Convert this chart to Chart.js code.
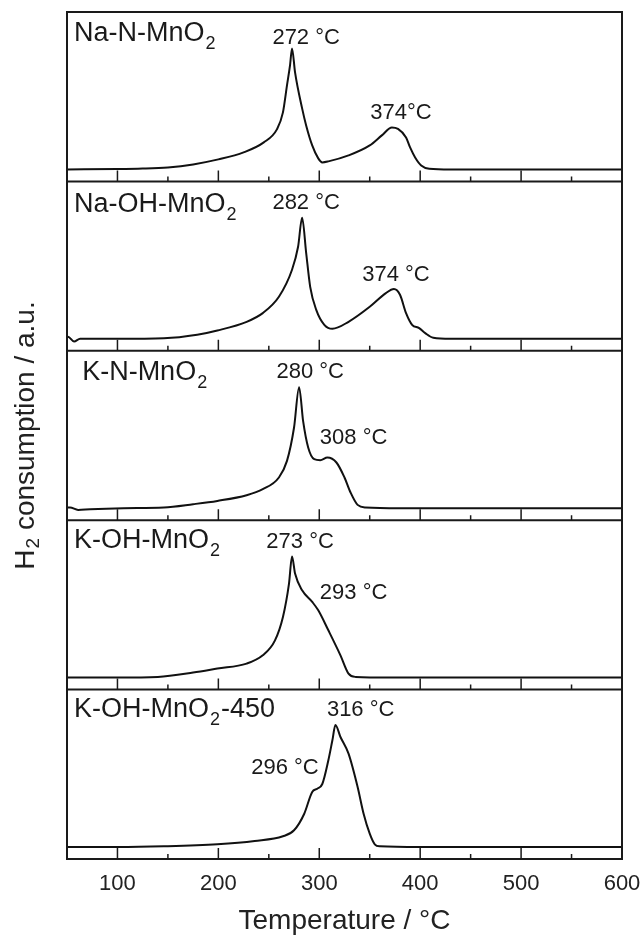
<!DOCTYPE html>
<html>
<head>
<meta charset="utf-8">
<script src="https://cdn.jsdelivr.net/npm/chart.js@4/dist/chart.umd.min.js"></script>
<style>
  html, body { margin: 0; padding: 0; background: #fff; }
  #wrap { position: relative; width: 644px; height: 935px; }
</style>
</head>
<body>
<div id="wrap"><canvas id="tpr" width="644" height="935"></canvas></div>
<script>
// H2-TPR traces (signal in a.u., 0 = baseline of each trace)
var tNaN = [50, 100, 125, 150, 175, 200, 225, 245, 258, 264, 268, 271, 273, 276, 283, 287, 293, 299, 303, 309, 329, 350, 362, 372, 378, 386, 390, 395, 401, 409, 430, 500, 600];
var hNaN = [0, 0.3, 0.8, 2, 5, 10, 17, 27, 40, 57, 84, 104, 121, 97, 61, 44, 24, 11, 7, 8, 14, 24, 34, 42, 40.5, 32, 22, 12, 4, 0.7, 0, 0, 0];

var tNaOH = [50, 51, 57, 63, 100, 146, 179, 199, 228, 244, 260, 273, 279, 283, 287, 291, 297, 305, 313, 329, 350, 366, 374, 380, 386, 392, 399, 405, 413, 430, 500, 600];
var hNaOH = [1.5, 2, -2.7, 0, 0, 0.5, 4, 8.3, 17, 25.7, 42, 69, 92, 121, 86, 52, 29, 14, 10, 17, 32, 45.7, 49.7, 44, 25.7, 14, 10.7, 5.7, 1, 0, 0, 0];

var tKN = [50, 53, 61, 73, 106, 146, 175, 199, 228, 244, 260, 268, 275, 280, 284, 289, 295, 301, 308, 317, 325, 331, 338, 346, 380, 500, 600];
var hKN = [0.5, 0.7, -1.7, -1, 0, 0.7, 4, 7.3, 13, 19, 30.7, 47.3, 80.7, 121, 87, 60.7, 49, 48, 50.7, 45.7, 30.7, 15.7, 3.3, 0.7, 0, 0, 0];

var tKOH = [50, 100, 140, 175, 199, 228, 244, 256, 264, 270, 273, 276, 283, 293, 299, 309, 321, 329, 336, 370, 500, 600];
var hKOH = [0, 0, 0.7, 5, 9, 14, 22.3, 37, 60.7, 94, 121, 104, 87.3, 75.7, 67.3, 47.3, 22.3, 4, 0.7, 0, 0, 0];

var tKOH450 = [50, 100, 146, 199, 236, 264, 275, 285, 293, 298, 303, 309, 313, 316, 321, 329, 338, 344, 350, 355, 360, 400, 500, 600];
var hKOH450 = [0, 0, 0.7, 2.7, 6, 10.7, 16.7, 33, 55, 58.3, 63, 86.7, 106.7, 122, 110, 93.3, 60, 33, 13.3, 2.7, 0.7, 0, 0, 0];

var temps = [tNaN, tNaOH, tKN, tKOH, tKOH450];
var signals = [hNaN, hNaOH, hKN, hKOH, hKOH450];

// sample names: [text, subscript, suffix]
var sampleNames = [
  ['Na-N-MnO', '2', ''],
  ['Na-OH-MnO', '2', ''],
  ['K-N-MnO', '2', ''],
  ['K-OH-MnO', '2', ''],
  ['K-OH-MnO', '2', '-450']
];
var peakTexts = [
  ['272 °C', '374°C'],
  ['282 °C', '374 °C'],
  ['280 °C', '308 °C'],
  ['273 °C', '293 °C'],
  ['316 °C', '296 °C']
];
var xTickValues = [100, 200, 300, 400, 500, 600];
var xMinorValues = [150, 250, 350, 450, 550];

// where the texts sit, in each panel's data coordinates [T, signal]
var nameAnchors = [[57, 128], [57, 127], [65, 128], [57, 130], [57, 130]];
var peakAnchors = [
  [[287, 131], [381, 56]],
  [[287, 136], [376, 64]],
  [[291, 136], [334, 70]],
  [[281, 136], [334, 85]],
  [[341, 137], [266, 79]]
];

var FONT = "'Liberation Sans', Arial, Helvetica, sans-serif";
var INK = '#1a1a1a';

var datasets = [];
var scales = {
  x: {
    type: 'linear',
    min: 50,
    max: 600,
    position: 'bottom',
    afterBuildTicks: function (s) {
      s.ticks = xTickValues.map(function (v) { return { value: v }; });
    },
    ticks: { color: '#222', padding: 12, font: { family: FONT, size: 22 } },
    grid: { display: false, drawTicks: false },
    border: { display: false },
    title: {
      display: true,
      text: 'Temperature / °C',
      color: '#222',
      padding: 0,
      font: { family: FONT, size: 28, lineHeight: 1 }
    },
    afterFit: function (s) {
      s.height = 76;
      s.paddingLeft = 0;
      s.paddingRight = 0;
    }
  }
};

for (var i = 0; i < 5; i++) {
  var pts = temps[i].map(function (t, k) { return { x: t, y: signals[i][k] }; });
  datasets.push({
    data: pts,
    yAxisID: 'y' + i,
    borderColor: '#111',
    borderWidth: 2,
    pointRadius: 0,
    fill: false,
    cubicInterpolationMode: 'monotone'
  });
}
// stacked panels: the last one defined ends up on top
for (var j = 4; j >= 0; j--) {
  scales['y' + j] = {
    type: 'linear',
    position: 'left',
    stack: 'panels',
    stackWeight: 1,
    min: -12,
    max: 157.4,
    ticks: { display: false },
    grid: { display: false, drawTicks: false },
    border: { display: false },
    afterFit: function (s) { s.width = 0; }
  };
}

function drawName(ctx, parts, x, y) {
  ctx.font = '27px ' + FONT;
  ctx.textAlign = 'left';
  ctx.textBaseline = 'alphabetic';
  ctx.fillText(parts[0], x, y);
  var w = ctx.measureText(parts[0]).width;
  ctx.font = '18px ' + FONT;
  ctx.fillText(parts[1], x + w + 1, y + 8);
  var w2 = ctx.measureText(parts[1]).width;
  if (parts[2]) {
    ctx.font = '27px ' + FONT;
    ctx.fillText(parts[2], x + w + w2 + 2, y);
  }
}

var panelPlugin = {
  id: 'panels',
  afterDraw: function (chart) {
    var ctx = chart.ctx;
    var area = chart.chartArea;
    var xs = chart.scales.x;
    ctx.save();
    ctx.strokeStyle = INK;
    ctx.fillStyle = INK;

    for (var i = 0; i < 5; i++) {
      var ys = chart.scales['y' + i];
      var bottom = ys.bottom;
      // inward ticks along the bottom of each panel
      ctx.lineWidth = 1.5;
      ctx.beginPath();
      xTickValues.forEach(function (v) {
        var px = xs.getPixelForValue(v);
        ctx.moveTo(px, bottom);
        ctx.lineTo(px, bottom - 11);
      });
      xMinorValues.forEach(function (v) {
        var px = xs.getPixelForValue(v);
        ctx.moveTo(px, bottom);
        ctx.lineTo(px, bottom - 5);
      });
      ctx.stroke();
      // panel separator
      ctx.lineWidth = 2;
      ctx.beginPath();
      ctx.moveTo(area.left, bottom);
      ctx.lineTo(area.right, bottom);
      ctx.stroke();

      // sample name
      var na = nameAnchors[i];
      drawName(ctx, sampleNames[i], xs.getPixelForValue(na[0]), ys.getPixelForValue(na[1]));

      // peak temperatures
      ctx.font = '22px ' + FONT;
      ctx.textAlign = 'center';
      ctx.textBaseline = 'middle';
      for (var k = 0; k < 2; k++) {
        var pa = peakAnchors[i][k];
        ctx.fillText(peakTexts[i][k], xs.getPixelForValue(pa[0]), ys.getPixelForValue(pa[1]));
      }
    }

    // outer frame
    ctx.lineWidth = 2;
    ctx.strokeRect(area.left, area.top, area.right - area.left, area.bottom - area.top);

    // y axis title with subscript
    ctx.translate(26, (area.top + area.bottom) / 2);
    ctx.rotate(-Math.PI / 2);
    ctx.fillStyle = '#222';
    ctx.textBaseline = 'middle';
    ctx.textAlign = 'left';
    ctx.font = '28px ' + FONT;
    var a = 'H', b = '2', c = ' consumption / a.u.';
    var wa = ctx.measureText(a).width, wc = ctx.measureText(c).width;
    ctx.font = '19px ' + FONT;
    var wb = ctx.measureText(b).width;
    var x0 = -(wa + wb + wc + 1) / 2;
    ctx.font = '28px ' + FONT;
    ctx.fillText(a, x0, 0);
    ctx.font = '19px ' + FONT;
    ctx.fillText(b, x0 + wa + 1, 8);
    ctx.font = '28px ' + FONT;
    ctx.fillText(c, x0 + wa + wb + 1, 0);
    ctx.restore();
  }
};

new Chart(document.getElementById('tpr').getContext('2d'), {
  type: 'line',
  data: { datasets: datasets },
  options: {
    responsive: false,
    animation: false,
    devicePixelRatio: 1,
    layout: { padding: { left: 67, right: 22, top: 12, bottom: 0 } },
    plugins: { legend: { display: false }, tooltip: { enabled: false } },
    scales: scales
  },
  plugins: [panelPlugin]
});
</script>
</body>
</html>
